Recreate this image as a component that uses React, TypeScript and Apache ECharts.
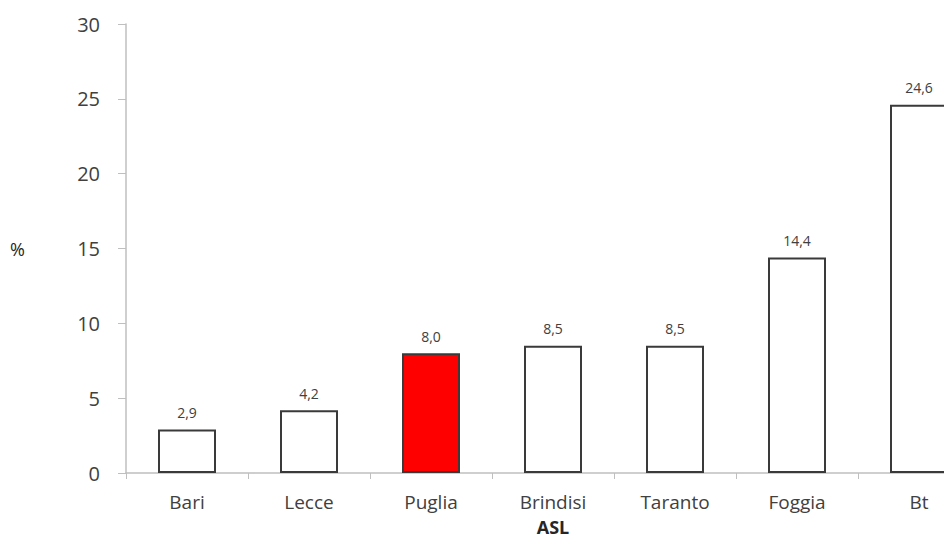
import React, { useEffect, useRef } from "react";
import * as echarts from "echarts";

const categories = ["Bari", "Lecce", "Puglia", "Brindisi", "Taranto", "Foggia", "Bt"];
const values = [2.9, 4.2, 8.0, 8.5, 8.5, 14.4, 24.6];
const highlight = "Puglia";
const yTicks = [0, 5, 10, 15, 20, 25, 30];

export default function App() {
  const ref = useRef<HTMLDivElement>(null);
  useEffect(() => {
    if (!ref.current) return;
    const chart = echarts.init(ref.current, null, { renderer: "svg" });
    const font = "'Open Sans', 'Noto Sans', sans-serif";
    chart.setOption({
      animation: false,
      backgroundColor: "#ffffff",
      grid: {
        left: 126,
        top: 24,
        height: 449,
        width: 854,
        containLabel: false,
        outerBoundsMode: "none",
      },
      xAxis: {
        type: "category",
        data: categories,
        name: "ASL",
        nameLocation: "middle",
        nameGap: 45,
        nameTextStyle: { fontFamily: font, fontSize: 18, fontWeight: "bold", color: "#262626" },
        axisLine: { lineStyle: { color: "#bfbfbf", width: 1.5 } },
        axisTick: { show: true, length: 6, lineStyle: { color: "#bfbfbf" } },
        axisLabel: { fontFamily: font, fontSize: 19, color: "#404040", margin: 19 },
      },
      yAxis: {
        type: "value",
        min: yTicks[0],
        max: yTicks[yTicks.length - 1],
        interval: 5,
        name: "%",
        nameLocation: "middle",
        nameRotate: 0,
        nameGap: 101,
        nameTextStyle: { fontFamily: font, fontSize: 18, color: "#262626" },
        axisLine: { show: true, lineStyle: { color: "#bfbfbf", width: 1.5 } },
        axisTick: { show: true, length: 8, lineStyle: { color: "#bfbfbf" } },
        axisLabel: { fontFamily: font, fontSize: 20, color: "#404040", margin: 26 },
        splitLine: { show: false },
      },
      series: [
        {
          type: "bar",
          barWidth: 58,
          data: categories.map((c, i) => ({
            value: values[i],
            itemStyle: {
              color: c === highlight ? "#ff0000" : "#ffffff",
              borderColor: "#3a3a3a",
              borderWidth: 2,
            },
          })),
          label: {
            show: true,
            position: "top",
            distance: 10,
            fontFamily: font,
            fontSize: 14,
            color: "#404040",
            formatter: (p: any) => Number(p.value).toFixed(1).replace(".", ","),
          },
        },
      ],
    });
    return () => chart.dispose();
  }, []);
  return (
    <div
      ref={ref}
      style={{ position: "absolute", left: 0, top: 0, width: 944, height: 545, overflow: "hidden" }}
    />
  );
}
